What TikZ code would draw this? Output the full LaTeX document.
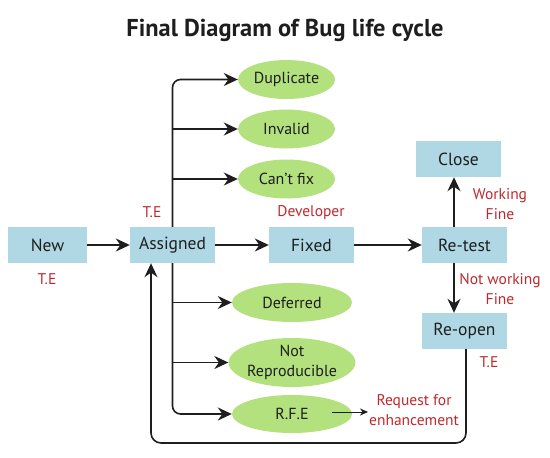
\documentclass[tikz,border=0pt]{standalone}
\usepackage{fontspec}
\setmainfont{PT Sans}
\usetikzlibrary{arrows.meta,shapes.geometric}
\definecolor{boxblue}{RGB}{176,216,228}
\definecolor{leafgreen}{RGB}{178,225,125}
\definecolor{labelred}{RGB}{190,40,45}
\definecolor{inkdark}{RGB}{30,30,30}
\begin{document}
\begin{tikzpicture}[x=1pt,y=-1pt,
  stage/.style={fill=boxblue, minimum width=85pt, minimum height=36pt, inner sep=0pt,
    text=inkdark, font=\fontsize{17.5}{20}\selectfont},
  outcome/.style={ellipse, fill=leafgreen, inner sep=0pt, minimum width=97pt, minimum height=39pt,
    text=inkdark, font=\fontsize{16}{19}\selectfont, align=center},
  wideoutcome/.style={outcome, minimum width=120pt},
  note/.style={text=labelred, font=\fontsize{15.5}{20}\selectfont, align=center, inner sep=1pt},
  flow/.style={line width=1.6pt, draw=inkdark, -{Stealth[length=14pt,width=13pt]}},
  thinflow/.style={line width=0.9pt, draw=inkdark, -{Stealth[length=8pt,width=7pt]}}]
\useasboundingbox (0,0) rectangle (550,458);

\node[font=\bfseries\fontsize{24.4}{28}\selectfont, text=inkdark] (title) at (285,30) {Final Diagram of Bug life cycle};

\node[stage, minimum width=79pt] (new) at (47.5,245) {New};
\node[stage] (assigned) at (172.5,245) {Assigned};
\node[stage] (fixed) at (311.5,245) {Fixed};
\node[stage] (retest) at (464.5,245) {Re-test};
\node[stage] (close) at (458.5,159) {Close};
\node[stage] (reopen) at (464.5,331) {Re-open};

\node[outcome] (dup) at (286.5,79.5) {Duplicate};
\node[outcome] (invalid) at (286.5,129) {Invalid};
\node[outcome] (cantfix) at (286.5,179) {Can’t fix};
\node[wideoutcome] (deferred) at (292,302.5) {Deferred};
\node[wideoutcome, minimum height=49pt, font=\fontsize{16}{20}\selectfont] (notrep) at (292,362.5) {Not\\Reproducible};
\node[wideoutcome, minimum height=38pt] (rfe) at (292,414) {R.F.E};

\node[note] (te1) at (47,279) {T.E};
\node[note] (te2) at (152,212) {T.E};
\node[note] (dev) at (311,213) {Developer};
\node[note] (work) at (500,204) {Working\\Fine};
\node[note] (notwork) at (500,289) {Not working\\Fine};
\node[note] (te3) at (489,362) {T.E};
\node[note, anchor=west] (request) at (368,410) {Request for\\enhancement};

\coordinate (xcol) at (454,0);
\coordinate (rfeout) at (332,412);
\coordinate (loopR) at (466,443);
\coordinate (loopL) at (151,443);

\draw[flow] (new) -- (assigned);
\draw[flow] (assigned) -- (fixed);
\draw[flow] (fixed) -- (retest);
\draw[flow] (retest.north -| xcol) -- (close.south -| xcol);
\draw[flow] (retest.south -| xcol) -- (reopen.north -| xcol);

\draw[flow, rounded corners=8pt] (assigned.north) |- (dup.west);
\draw[flow] (assigned.north |- invalid.west) -- (invalid.west);
\draw[flow] (assigned.north |- cantfix.west) -- (cantfix.west);

\draw[flow, rounded corners=8pt] (assigned.south) |- (rfe.west);
\draw[flow] (assigned.south |- deferred.west) -- (deferred.west);
\draw[flow] (assigned.south |- notrep.west) -- (notrep.west);

\draw[flow, rounded corners=10pt] (reopen.south -| loopR) -- (loopR) -- (loopL) -- (assigned.south -| loopL);

\draw[thinflow] (rfeout) -- (request.west |- rfeout);
\end{tikzpicture}
\end{document}
